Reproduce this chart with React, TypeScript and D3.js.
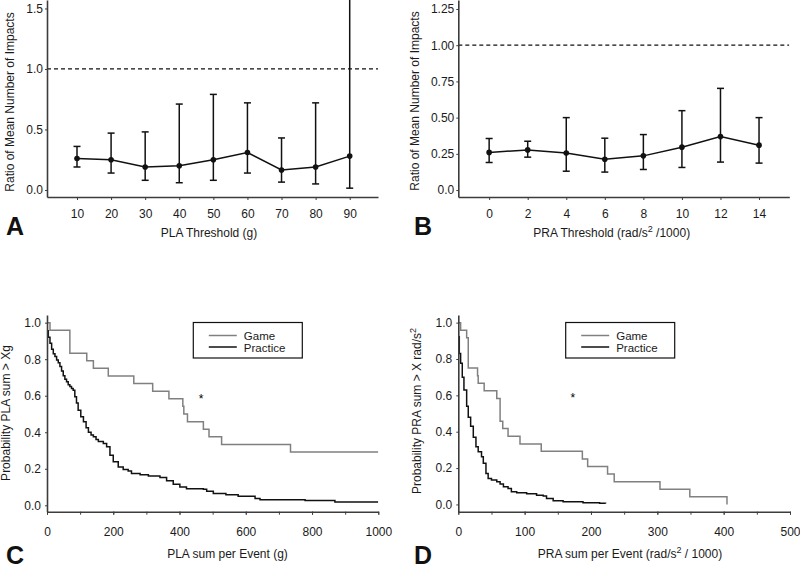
import * as d3 from "d3";
import { useEffect, useRef } from "react";

// Panel A: ratio of mean number of impacts vs PLA threshold
const plaThresholds = [10, 20, 30, 40, 50, 60, 70, 80, 90];
const plaRatio = [0.26, 0.25, 0.19, 0.2, 0.25, 0.31, 0.165, 0.19, 0.28];
const plaLower = [0.19, 0.14, 0.08, 0.06, 0.08, 0.14, 0.065, 0.05, 0.015];
const plaUpper = [0.36, 0.47, 0.48, 0.71, 0.79, 0.72, 0.43, 0.72, 2.0];
const plaYTicks = [0, 0.5, 1, 1.5];
const plaYLabels = ["0.0", "0.5", "1.0", "1.5"];

// Panel B: ratio vs PRA threshold
const praThresholds = [0, 2, 4, 6, 8, 10, 12, 14];
const praRatio = [0.26, 0.277, 0.255, 0.213, 0.236, 0.296, 0.369, 0.31];
const praLower = [0.19, 0.227, 0.13, 0.124, 0.142, 0.156, 0.193, 0.186];
const praUpper = [0.355, 0.337, 0.5, 0.358, 0.383, 0.548, 0.702, 0.5];
const praYTicks = [0, 0.25, 0.5, 0.75, 1, 1.25];
const praYLabels = ["0.0", "0.25", "0.50", "0.75", "1.00", "1.25"];

// Panel C: survival curves of PLA sum per event
const plaGameX = [0, 9, 69, 120, 140, 185, 262, 319, 368, 410, 413, 424, 472, 489, 527, 735, 1000];
const plaGameS = [1, 0.958, 0.833, 0.792, 0.75, 0.708, 0.667, 0.625, 0.583, 0.542, 0.5, 0.458, 0.417, 0.375, 0.333, 0.292, 0.292];
const plaPracticeX = [
  0, 4, 9, 14, 19, 24, 29, 34, 39, 44, 49, 54, 59, 64, 69, 74, 79, 84, 89, 94, 102, 110, 118, 125, 133, 140,
  148, 155, 170, 180, 190, 200, 215, 230, 245, 255, 281, 306, 341, 361, 381, 401, 421, 472, 482, 502, 540, 577,
  628, 643, 779, 869, 1000,
];
const plaPracticeS = [
  0.956, 0.92, 0.887, 0.855, 0.83, 0.815, 0.795, 0.78, 0.76, 0.735, 0.71, 0.69, 0.676, 0.66, 0.65, 0.64, 0.63,
  0.594, 0.56, 0.52, 0.485, 0.457, 0.425, 0.4, 0.385, 0.375, 0.36, 0.35, 0.338, 0.32, 0.274, 0.238, 0.21, 0.196,
  0.188, 0.174, 0.168, 0.16, 0.152, 0.135, 0.115, 0.1, 0.091, 0.088, 0.077, 0.064, 0.058, 0.049, 0.037, 0.031,
  0.027, 0.018, 0.018,
];

// Panel D: survival curves of PRA sum per event
const praGameX = [0, 3.5, 12.6, 15, 29, 30, 39, 58, 63, 67, 75, 93, 125, 187, 195, 225, 235, 304, 349, 405];
const praGameS = [1, 0.958, 0.917, 0.75, 0.708, 0.667, 0.625, 0.583, 0.458, 0.417, 0.375, 0.333, 0.292, 0.25, 0.208, 0.167, 0.125, 0.083, 0.042, 0];
const praPracticeX = [
  0, 1.5, 3.5, 6, 8.5, 12.6, 15, 18.6, 22.6, 26.6, 30, 35, 37.7, 41.7, 45, 50, 58, 63, 68, 75, 80, 88, 103, 118,
  128, 133, 143, 158, 188, 213, 222,
];
const praPracticeS = [
  0.923, 0.83, 0.776, 0.7, 0.63, 0.54, 0.48, 0.43, 0.37, 0.317, 0.29, 0.262, 0.226, 0.17, 0.143, 0.134, 0.125,
  0.112, 0.097, 0.088, 0.07, 0.064, 0.059, 0.051, 0.046, 0.033, 0.02, 0.015, 0.009, 0.006, 0.005,
];
const survTicks = [0, 0.2, 0.4, 0.6, 0.8, 1];
const legendLabels = ["Game", "Practice"];

const FONT = "'Liberation Sans', Arial, Helvetica, sans-serif";
const AXIS = "#3c3c3c";
const GAME = "#808080";

type Part = [string, boolean];
type Sel = d3.Selection<SVGGElement, unknown, null, undefined>;

function richText(parent: Sel, parts: Part[], x: number, y: number, anchor: string, transform?: string) {
  const t = parent
    .append("text")
    .attr("x", x)
    .attr("y", y)
    .attr("text-anchor", anchor)
    .attr("font-family", FONT)
    .attr("font-size", 12)
    .attr("fill", "#1a1a1a");
  if (transform) t.attr("transform", transform);
  let raised = false;
  parts.forEach(([s, sup]) => {
    const sp = t.append("tspan").text(s);
    if (sup && !raised) sp.attr("dy", -5).attr("font-size", 9);
    if (!sup && raised) sp.attr("dy", 5);
    raised = sup;
  });
  return t;
}

function styleAxis(g: Sel) {
  g.attr("font-family", FONT).attr("font-size", 12);
  g.select(".domain").attr("stroke", AXIS).attr("stroke-width", 1.6);
  g.selectAll(".tick line").attr("stroke", AXIS);
  g.selectAll(".tick text").attr("fill", "#1a1a1a");
}

interface Frame {
  left: number;
  right: number;
  top: number;
  bottom: number;
  xDomain: [number, number];
  yDomain: [number, number];
}

function frame(svg: Sel, f: Frame, id: string) {
  const x = d3.scaleLinear().domain(f.xDomain).range([f.left, f.right]);
  const y = d3.scaleLinear().domain(f.yDomain).range([f.bottom, f.top]);
  svg
    .append("clipPath")
    .attr("id", id)
    .append("rect")
    .attr("x", f.left)
    .attr("y", f.top)
    .attr("width", f.right - f.left)
    .attr("height", f.bottom - f.top);
  return { x, y };
}

function drawRatioPanel(
  svg: Sel,
  f: Frame,
  id: string,
  xs: number[],
  mid: number[],
  lo: number[],
  hi: number[],
  yTicks: number[],
  yLabels: string[],
  xPad: number,
) {
  const { x, y } = frame(svg, f, id);
  const plot = svg.append("g").attr("clip-path", `url(#${id})`);

  // reference line at ratio 1
  plot
    .append("line")
    .attr("x1", f.left)
    .attr("x2", f.right)
    .attr("y1", y(1))
    .attr("y2", y(1))
    .attr("stroke", "#111")
    .attr("stroke-width", 1.2)
    .attr("stroke-dasharray", "4,3");

  const idx = d3.range(xs.length);
  const bars = plot.append("g").attr("stroke", "#111").attr("stroke-width", 1.5);
  bars
    .selectAll("line.v")
    .data(idx)
    .join("line")
    .attr("x1", (i) => x(xs[i]))
    .attr("x2", (i) => x(xs[i]))
    .attr("y1", (i) => y(lo[i]))
    .attr("y2", (i) => y(hi[i]));
  ["lo", "hi"].forEach((k) => {
    const arr = k === "lo" ? lo : hi;
    bars
      .append("g")
      .selectAll("line")
      .data(idx)
      .join("line")
      .attr("x1", (i) => x(xs[i]) - 3.5)
      .attr("x2", (i) => x(xs[i]) + 3.5)
      .attr("y1", (i) => y(arr[i]))
      .attr("y2", (i) => y(arr[i]));
  });

  const line = d3
    .line<number>()
    .x((i) => x(xs[i]))
    .y((i) => y(mid[i]));
  plot.append("path").datum(idx).attr("fill", "none").attr("stroke", "#111").attr("stroke-width", 1.5).attr("d", line);
  plot
    .append("g")
    .selectAll("circle")
    .data(idx)
    .join("circle")
    .attr("cx", (i) => x(xs[i]))
    .attr("cy", (i) => y(mid[i]))
    .attr("r", 2.8)
    .attr("fill", "#111");

  const gx = svg
    .append("g")
    .attr("transform", `translate(0,${f.bottom})`)
    .call(d3.axisBottom(x).tickValues(xs).tickSize(3).tickSizeOuter(0).tickPadding(xPad).tickFormat(d3.format("d")));
  styleAxis(gx);
  const gy = svg
    .append("g")
    .attr("transform", `translate(${f.left},0)`)
    .call(
      d3
        .axisLeft(y)
        .tickValues(yTicks)
        .tickSize(2)
        .tickSizeOuter(0)
        .tickPadding(2)
        .tickFormat((_, i) => yLabels[i]),
    );
  styleAxis(gy);
}

function drawSurvivalPanel(
  svg: Sel,
  f: Frame,
  id: string,
  gameX: number[],
  gameS: number[],
  pracX: number[],
  pracS: number[],
  xTicks: number[],
  minorStep: number,
  star: [number, number],
  legendX: number,
) {
  const { x, y } = frame(svg, f, id);
  const plot = svg.append("g").attr("clip-path", `url(#${id})`);

  const step = (xsArr: number[], ysArr: number[]) =>
    d3
      .line<number>()
      .curve(d3.curveStepAfter)
      .x((i) => x(xsArr[i]))
      .y((i) => y(ysArr[i]))(d3.range(xsArr.length));

  plot.append("path").attr("d", step(gameX, gameS)).attr("fill", "none").attr("stroke", GAME).attr("stroke-width", 1.5);
  plot.append("path").attr("d", step(pracX, pracS)).attr("fill", "none").attr("stroke", "#111").attr("stroke-width", 1.5);

  svg
    .append("text")
    .attr("x", x(star[0]))
    .attr("y", y(star[1]) + 7)
    .attr("text-anchor", "middle")
    .attr("font-family", FONT)
    .attr("font-size", 12)
    .text("*");

  // legend
  const lg = svg.append("g").attr("transform", `translate(${legendX},${f.top + 7.5})`);
  lg.append("rect").attr("width", 109).attr("height", 35.5).attr("fill", "white").attr("stroke", "#111").attr("stroke-width", 1.2);
  legendLabels.forEach((lab, i) => {
    const yy = 13 + i * 11.5;
    lg.append("line")
      .attr("x1", 15.5)
      .attr("x2", 43.5)
      .attr("y1", yy)
      .attr("y2", yy)
      .attr("stroke", i === 0 ? GAME : "#111")
      .attr("stroke-width", 1.5);
    lg.append("text")
      .attr("x", 50.5)
      .attr("y", yy + 4.5)
      .attr("font-family", FONT)
      .attr("font-size", 11.5)
      .attr("fill", "#1a1a1a")
      .text(lab);
  });

  const minor = d3.range(f.xDomain[0], f.xDomain[1] + 1e-6, minorStep);
  const gxm = svg
    .append("g")
    .attr("transform", `translate(0,${f.bottom})`)
    .call(d3.axisBottom(x).tickValues(minor).tickSize(3).tickSizeOuter(0).tickFormat(() => ""));
  styleAxis(gxm);
  const gx = svg
    .append("g")
    .attr("transform", `translate(0,${f.bottom})`)
    .call(d3.axisBottom(x).tickValues(xTicks).tickSize(3).tickSizeOuter(0).tickPadding(13).tickFormat(d3.format("d")));
  styleAxis(gx);
  gx.select(".domain").remove();
  const gy = svg
    .append("g")
    .attr("transform", `translate(${f.left},0)`)
    .call(d3.axisLeft(y).tickValues(survTicks).tickSize(2).tickSizeOuter(0).tickPadding(4).tickFormat(d3.format(".1f")));
  styleAxis(gy);
}

export default function App() {
  const svgRef = useRef<SVGSVGElement | null>(null);

  useEffect(() => {
    if (!svgRef.current) return;
    d3.select(svgRef.current).selectAll("*").remove();
    const svg = d3.select(svgRef.current).append("g") as unknown as Sel;
    svg.append("rect").attr("width", 800).attr("height", 570).attr("fill", "white");

    const fA: Frame = { left: 47, right: 378, top: 0, bottom: 197, xDomain: [1.2, 98.3], yDomain: [-0.058, 1.57] };
    const fB: Frame = { left: 458.3, right: 789.3, top: 0, bottom: 197, xDomain: [-1.6, 15.57], yDomain: [-0.048, 1.312] };
    const fC: Frame = { left: 47, right: 378.3, top: 315, bottom: 511.7, xDomain: [0, 1000], yDomain: [-0.035, 1.042] };
    const fD: Frame = { left: 458.3, right: 790, top: 315, bottom: 511.7, xDomain: [0, 500], yDomain: [-0.04, 1.042] };

    drawRatioPanel(svg, fA, "clipA", plaThresholds, plaRatio, plaLower, plaUpper, plaYTicks, plaYLabels, 9);
    drawRatioPanel(svg, fB, "clipB", praThresholds, praRatio, praLower, praUpper, praYTicks, praYLabels, 9);
    drawSurvivalPanel(svg, fC, "clipC", plaGameX, plaGameS, plaPracticeX, plaPracticeS, d3.range(0, 1001, 200), 100, [465, 0.6], 193.3);
    drawSurvivalPanel(svg, fD, "clipD", praGameX, praGameS, praPracticeX, praPracticeS, d3.range(0, 501, 100), 50, [172.5, 0.6], 565.7);

    // axis titles
    richText(svg, [["PLA Threshold (g)", false]], 209, 237, "middle");
    richText(svg, [["PRA Threshold (rad/s", false], ["2", true], [" /1000)", false]], 611.7, 237, "middle");
    richText(svg, [["PLA sum per Event (g)", false]], 227.5, 557.5, "middle");
    richText(svg, [["PRA sum per Event (rad/s", false], ["2", true], [" / 1000)", false]], 630, 557.5, "middle");

    richText(svg, [["Ratio of Mean Number of Impacts", false]], 0, 0, "middle", "translate(14,102) rotate(-90)");
    richText(svg, [["Ratio of Mean Number of Impacts", false]], 0, 0, "middle", "translate(419,101) rotate(-90)");
    richText(svg, [["Probability PLA sum > Xg", false]], 0, 0, "middle", "translate(9.5,413) rotate(-90)");
    richText(svg, [["Probability PRA sum > X rad/s", false], ["2", true]], 0, 0, "middle", "translate(421,411) rotate(-90)");

    // panel letters
    const letters: [string, number, number][] = [
      ["A", 6, 235],
      ["B", 414, 235],
      ["C", 6, 564],
      ["D", 414, 564],
    ];
    letters.forEach(([t, lx, ly]) =>
      svg
        .append("text")
        .attr("x", lx)
        .attr("y", ly)
        .attr("font-family", FONT)
        .attr("font-weight", "bold")
        .attr("font-size", 25)
        .attr("fill", "#111")
        .text(t),
    );
  }, []);

  return (
    <svg
      ref={svgRef}
      width={800}
      height={570}
      style={{ position: "absolute", left: 0, top: 0, display: "block", background: "white" }}
    />
  );
}
